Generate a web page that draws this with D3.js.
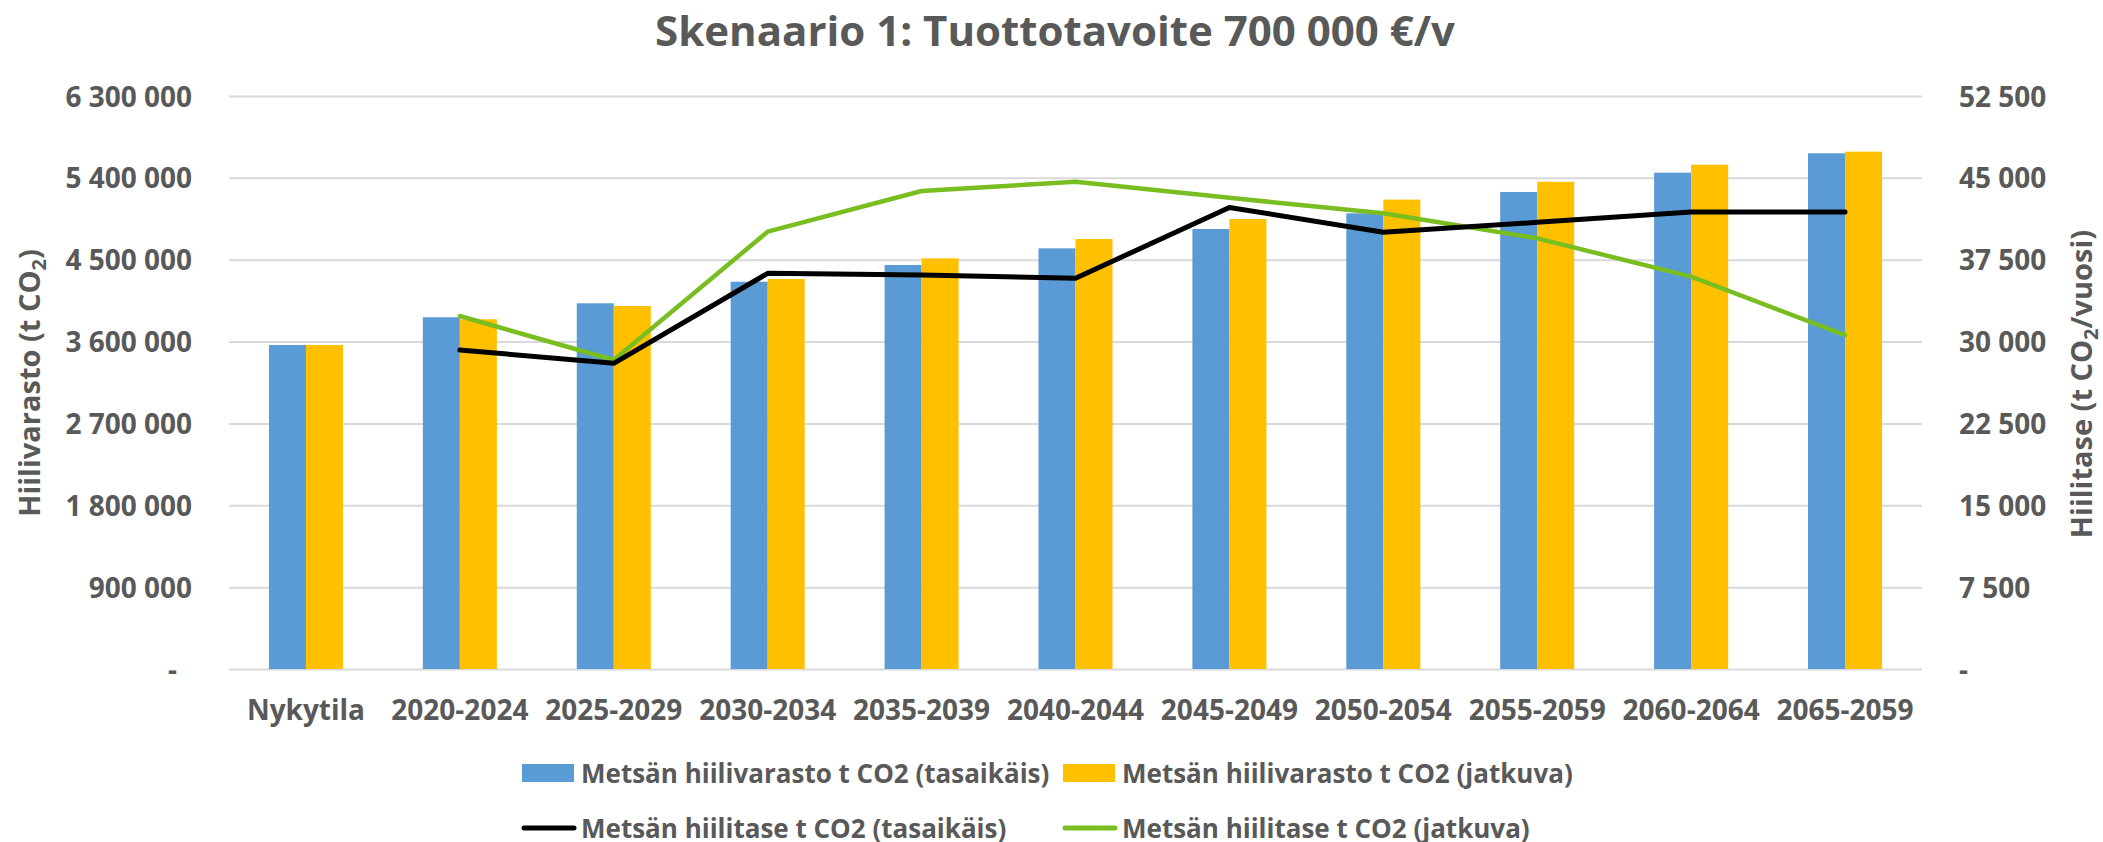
<!DOCTYPE html>
<html>
<head>
<meta charset="utf-8">
<script src="https://cdn.jsdelivr.net/npm/d3@7"></script>
<style>
  html, body { margin: 0; padding: 0; background: #fff; }
  svg { display: block; font-family: "Open Sans", sans-serif; font-weight: 700; }
</style>
</head>
<body>
<svg id="chart" width="2103" height="842"></svg>
<script>
const categories = ["Nykytila","2020-2024","2025-2029","2030-2034","2035-2039","2040-2044","2045-2049","2050-2054","2055-2059","2060-2064","2065-2059"];
const varastoTasaikais = [3562000, 3867000, 4021000, 4258000, 4442000, 4625000, 4838000, 5010000, 5245000, 5457000, 5670000];
const varastoJatkuva   = [3562000, 3845000, 3991000, 4288000, 4515000, 4728000, 4948000, 5161000, 5357000, 5545000, 5688000];
const taseTasaikais = [null, 29230, 28010, 36250, 36100, 35800, 42290, 40010, 40930, 41870, 41870];
const taseJatkuva   = [null, 32340, 28310, 40070, 43800, 44650, 43170, 41750, 39460, 35950, 30600];
const leftTicks  = [0, 900000, 1800000, 2700000, 3600000, 4500000, 5400000, 6300000];
const rightTicks = [0, 7500, 15000, 22500, 30000, 37500, 45000, 52500];
const seriesNames = ["Metsän hiilivarasto t CO2 (tasaikäis)", "Metsän hiilivarasto t CO2 (jatkuva)",
                     "Metsän hiilitase t CO2 (tasaikäis)", "Metsän hiilitase t CO2 (jatkuva)"];
const titleText = "Skenaario 1: Tuottotavoite 700 000 €/v";

const C_BLUE = "#5b9bd5", C_YEL = "#ffc000", C_BLACK = "#000000", C_GREEN = "#78be20";
const TXT = "#595959", GRID = "#d9d9d9";

const svg = d3.select("#chart");
const plot = {left: 229, right: 1922, top: 96, bottom: 669};

const x = d3.scaleBand().domain(categories).range([plot.left, plot.right]).padding(0);
const groupW = x.bandwidth() * 0.481;
const x1 = d3.scaleBand().domain([0, 1]).range([-groupW / 2, groupW / 2]).padding(0);
const yL = d3.scaleLinear().domain([0, 6300000]).range([plot.bottom, plot.top]);
const yR = d3.scaleLinear().domain([0, 52500]).range([plot.bottom, plot.top]);

const loc = d3.formatLocale({decimal: ",", thousands: " ", grouping: [3], currency: ["", ""]});
const fmt = v => v === 0 ? "-" : loc.format(",d")(v);

// title
svg.append("text").attr("x", 1055).attr("y", 46).attr("text-anchor", "middle")
  .attr("font-size", 42).attr("fill", TXT).text(titleText);

// gridlines
const grid = svg.append("g").attr("transform", `translate(${plot.left},0)`)
  .call(d3.axisLeft(yL).tickValues(leftTicks).tickSize(-(plot.right - plot.left)).tickFormat(""));
grid.select(".domain").remove();
grid.selectAll("line").attr("stroke", GRID).attr("stroke-width", 2);

// left axis labels
const axL = svg.append("g").attr("transform", `translate(192,0)`)
  .call(d3.axisLeft(yL).tickValues(leftTicks).tickSize(0).tickPadding(0).tickFormat(fmt));
axL.select(".domain").remove();
axL.selectAll("text").attr("font-size", 28).attr("fill", TXT).attr("font-family", "Open Sans")
  .attr("font-weight", 700).attr("dy", "0.36em").attr("dx", d => d === 0 ? -15 : 0);

// right axis labels
const axR = svg.append("g").attr("transform", `translate(1959,0)`)
  .call(d3.axisRight(yR).tickValues(rightTicks).tickSize(0).tickPadding(0).tickFormat(fmt));
axR.select(".domain").remove();
axR.selectAll("text").attr("font-size", 28).attr("fill", TXT).attr("font-family", "Open Sans")
  .attr("font-weight", 700).attr("dy", "0.36em");

// x axis labels
const axX = svg.append("g").attr("transform", `translate(0,${plot.bottom})`)
  .call(d3.axisBottom(x).tickSize(0).tickPadding(0));
axX.select(".domain").remove();
axX.selectAll("text").attr("font-size", 28).attr("fill", TXT).attr("font-family", "Open Sans")
  .attr("font-weight", 700).attr("dy", null).attr("y", 51);

// bars
const barData = categories.map((c, i) => ({c, vals: [varastoTasaikais[i], varastoJatkuva[i]]}));
const groups = svg.append("g").selectAll("g").data(barData).join("g")
  .attr("transform", d => `translate(${x(d.c) + x.bandwidth() / 2},0)`);
groups.selectAll("rect").data(d => d.vals.map((v, k) => ({v, k}))).join("rect")
  .attr("x", d => x1(d.k)).attr("width", x1.bandwidth())
  .attr("y", d => yL(d.v)).attr("height", d => yL(0) - yL(d.v))
  .attr("fill", d => d.k === 0 ? C_BLUE : C_YEL);

// lines
const line = d3.line().defined(d => d.v != null)
  .x(d => x(d.c) + x.bandwidth() / 2).y(d => yR(d.v));
svg.append("path").datum(categories.map((c, i) => ({c, v: taseJatkuva[i]})))
  .attr("d", line).attr("fill", "none").attr("stroke", C_GREEN).attr("stroke-width", 4.5)
  .attr("stroke-linejoin", "round").attr("stroke-linecap", "round");
svg.append("path").datum(categories.map((c, i) => ({c, v: taseTasaikais[i]})))
  .attr("d", line).attr("fill", "none").attr("stroke", C_BLACK).attr("stroke-width", 5)
  .attr("stroke-linejoin", "round").attr("stroke-linecap", "round");

// axis titles
function axisTitle(tx, ty, main, after) {
  const t = svg.append("text").attr("transform", `translate(${tx},${ty}) rotate(-90)`)
    .attr("text-anchor", "middle").attr("font-size", 29).attr("fill", TXT);
  t.append("tspan").text(main);
  t.append("tspan").attr("font-size", 20).attr("dy", 6).text("2");
  t.append("tspan").attr("dy", -6).text(after);
}
axisTitle(40, 383, "Hiilivarasto (t CO", ")");
axisTitle(2092, 384, "Hiilitase (t CO", "/vuosi)");

// legend
const legend = [
  {name: seriesNames[0], type: "rect", color: C_BLUE, x: 522, y: 773},
  {name: seriesNames[1], type: "rect", color: C_YEL, x: 1063, y: 773},
  {name: seriesNames[2], type: "line", color: C_BLACK, x: 522, y: 828},
  {name: seriesNames[3], type: "line", color: C_GREEN, x: 1063, y: 828}
];
const lg = svg.append("g").selectAll("g").data(legend).join("g")
  .attr("transform", d => `translate(${d.x},${d.y})`);
lg.filter(d => d.type === "rect").append("rect")
  .attr("x", 0).attr("y", -9).attr("width", 52).attr("height", 18).attr("fill", d => d.color);
lg.filter(d => d.type === "line").append("line")
  .attr("x1", 2).attr("x2", 52).attr("y1", 0).attr("y2", 0)
  .attr("stroke", d => d.color).attr("stroke-width", 5).attr("stroke-linecap", "round");
lg.append("text").attr("x", 59).attr("y", 10).attr("font-size", 26).attr("fill", TXT)
  .text(d => d.name);
</script>
</body>
</html>
